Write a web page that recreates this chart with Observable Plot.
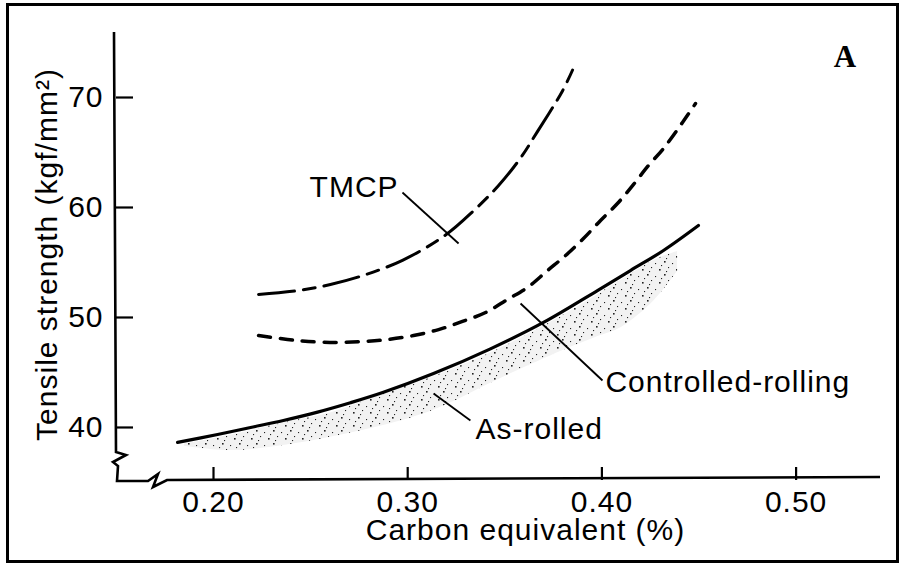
<!DOCTYPE html>
<html><head><meta charset="utf-8">
<script src="https://cdn.jsdelivr.net/npm/d3@7"></script>
<script src="https://cdn.jsdelivr.net/npm/@observablehq/plot@0.6"></script>
<style>
html,body{margin:0;padding:0;background:#fff;}
#wrap{position:relative;width:902px;height:563px;overflow:hidden;background:#fff;}
#border{position:absolute;left:6px;top:3px;width:893px;height:560px;box-sizing:border-box;border:3px solid #000;pointer-events:none;}
</style></head><body><div id="wrap"><div id="border"></div></div>
<script>
// ---- data ----
const xTicks = [0.20, 0.30, 0.40, 0.50];
const yTicks = [40, 50, 60, 70];
const xTitle = "Carbon equivalent (%)";
const yTitle = "Tensile strength (kgf/mm²)";
const cornerLabel = "A";

// TMCP (long dashed)
const tmcpX = [0.2232, 0.2438, 0.2602, 0.2767, 0.2973, 0.3195, 0.3339, 0.3468, 0.3581, 0.3668, 0.3797, 0.3849];
const tmcpY = [52.09, 52.45, 53.0, 53.8, 55.2, 57.5, 59.7, 62.0, 64.5, 66.9, 70.6, 72.5];

// Controlled-rolling (short dashed)
const crX = [0.2232, 0.2381, 0.2489, 0.2628, 0.2772, 0.2896, 0.3030, 0.3159, 0.3282, 0.3401, 0.3514, 0.3617, 0.3720, 0.3813, 0.3905, 0.3993, 0.4080, 0.4163, 0.4240, 0.4317, 0.4415, 0.4482];
const crY = [48.36, 48.0, 47.82, 47.73, 47.82, 48.0, 48.36, 48.9, 49.64, 50.45, 51.64, 52.73, 54.27, 55.64, 57.18, 58.82, 60.36, 62.1, 63.82, 65.36, 67.73, 69.45];

// As-rolled upper bound (solid)
const solidX = [0.1815, 0.2021, 0.2191, 0.2360, 0.2536, 0.2705, 0.2875, 0.3133, 0.3426, 0.3699, 0.3977, 0.4147, 0.4317, 0.4497];
const solidY = [38.64, 39.36, 40.0, 40.64, 41.4, 42.25, 43.2, 44.9, 47.15, 49.55, 52.45, 54.27, 56.09, 58.36];

// As-rolled scatter band
const bandX    = [0.185, 0.209, 0.236, 0.262, 0.2875, 0.313, 0.349, 0.380, 0.398, 0.410, 0.427, 0.439];
const bandLow  = [38.3, 37.9, 38.36, 39.18, 40.18, 41.55, 44.55, 47.0, 48.27, 49.1, 51.55, 54.2];
const bandHigh = [38.5, 39.3, 40.4, 41.4, 43.1, 44.6, 47.3, 50.2, 52.1, 53.4, 55.2, 56.0];

// annotations
const labelText = ["TMCP", "Controlled-rolling", "As-rolled"];
const labelX = [0.2953, 0.4018, 0.3349];
const labelY = [61.86, 44.1, 39.86];
const labelAnchor = ["end", "start", "start"];
const leaderX1 = [0.2973, 0.3581, 0.3133];
const leaderY1 = [61.36, 51.27, 43.09];
const leaderX2 = [0.3262, 0.4003, 0.3323];
const leaderY2 = [56.73, 44.27, 40.64];
const cornerX = [0.5254];
const cornerY = [73.7];

// ---- build tables ----
const tmcp = tmcpX.map((x, i) => ({x, y: tmcpY[i]}));
const cr = crX.map((x, i) => ({x, y: crY[i]}));
const solid = solidX.map((x, i) => ({x, y: solidY[i]}));
const band = bandX.map((x, i) => ({x, lo: bandLow[i], hi: bandHigh[i]}));
const labels = labelText.map((t, i) => ({t, x: labelX[i], y: labelY[i], a: labelAnchor[i]}));
const leaders = leaderX1.map((x1, i) => ({x1, y1: leaderY1[i], x2: leaderX2[i], y2: leaderY2[i]}));

const W = 902, H = 563, mL = 116, mR = 22, mT = 32, mB = 83;

const svg = Plot.plot({
  width: W, height: H,
  marginLeft: mL, marginRight: mR, marginTop: mT, marginBottom: mB,
  style: "font-family: 'Liberation Sans', Arial, sans-serif; font-size: 30px; letter-spacing: 1px; color: #000; background: transparent; overflow: visible;",
  x: {domain: [0.15005, 0.54346]},
  y: {domain: [35.18, 75.91]},
  marks: [
    Plot.areaY(band, {x: "x", y1: "lo", y2: "hi", fill: "#f2f2f2", curve: "catmull-rom"}),
    Plot.areaY(band, {x: "x", y1: "lo", y2: "hi", fill: "url(#stipple)", curve: "catmull-rom"}),
    Plot.line(solid, {x: "x", y: "y", stroke: "#000", strokeWidth: 3.2, curve: "catmull-rom"}),
    Plot.line(cr, {x: "x", y: "y", stroke: "#000", strokeWidth: 3.5, strokeDasharray: "12,10", curve: "catmull-rom"}),
    Plot.line(tmcp, {x: "x", y: "y", stroke: "#000", strokeWidth: 3, strokeDasharray: "36,9,12,9", curve: "catmull-rom"}),
    Plot.link(leaders, {x1: "x1", y1: "y1", x2: "x2", y2: "y2", stroke: "#000", strokeWidth: 1.8}),
    Plot.text(labels, {filter: d => d.a === "end", x: "x", y: "y", text: "t", textAnchor: "end", fill: "#000", fontSize: 30, letterSpacing: 1.3}),
    Plot.text(labels, {filter: d => d.a === "start", x: "x", y: "y", text: "t", textAnchor: "start", fill: "#000", fontSize: 30, letterSpacing: 1.3}),
    Plot.text([cornerLabel], {x: cornerX, y: cornerY, text: d => d, fontFamily: "'Liberation Serif', 'DejaVu Serif', serif", fontWeight: "bold", fontSize: 31, letterSpacing: 0}),
    Plot.axisY({ticks: yTicks, tickSize: 17, dx: 17, tickPadding: 13, strokeWidth: 2.2, label: null, fill: "#000", stroke: "#000", tickFormat: d => String(d)}),
    Plot.axisX({ticks: xTicks, tickSize: 13, dy: -13, tickPadding: 10, strokeWidth: 2.2, label: null, fill: "#000", stroke: "#000", tickFormat: d3.format(".2f")}),
    Plot.text([xTitle], {frameAnchor: "bottom", textAnchor: "middle", lineAnchor: "middle", dx: 27, dy: 50, text: d => d, fill: "#000", fontSize: 30, letterSpacing: 1.3}),
    Plot.text([yTitle], {frameAnchor: "left", textAnchor: "middle", lineAnchor: "middle", dx: -69, dy: -2, rotate: -90, text: d => d, fill: "#000", fontSize: 30, letterSpacing: 1.2})
  ]
});

// stipple pattern + broken axis lines (layout decoration)
const s = d3.select(svg);
const defs = s.insert("defs", ":first-child");
const pat = defs.append("pattern").attr("id", "stipple").attr("patternUnits", "userSpaceOnUse").attr("width", 17).attr("height", 13);
[[1,1],[9,3],[5,7],[13,9],[3,11],[15,5]].forEach(([px, py], i) =>
  pat.append("rect").attr("x", px).attr("y", py).attr("width", i % 3 === 0 ? 1.6 : 1.1).attr("height", i % 3 === 0 ? 1.6 : 1.1).attr("fill", "#222"));

const xb = H - mB, xr = W - mR;
s.append("path")
  .attr("d", `M${mL - 2},${mT} L${mL},${xb - 28} L${mL + 10},${xb - 25} L${mL - 3},${xb - 18} L${mL + 2},${xb - 14} L${mL + 1},${xb + 1} L${mL + 32},${xb + 1} L${mL + 42},${xb - 6} L${mL + 37},${xb + 7} L${mL + 51},${xb} L${xr},${xb - 3}`)
  .attr("fill", "none").attr("stroke", "#000").attr("stroke-width", 2.6).attr("stroke-linejoin", "miter");

document.getElementById("wrap").prepend(svg);
svg.style.position = "absolute";
svg.style.left = "0px";
svg.style.top = "0px";
</script>
</body></html>
